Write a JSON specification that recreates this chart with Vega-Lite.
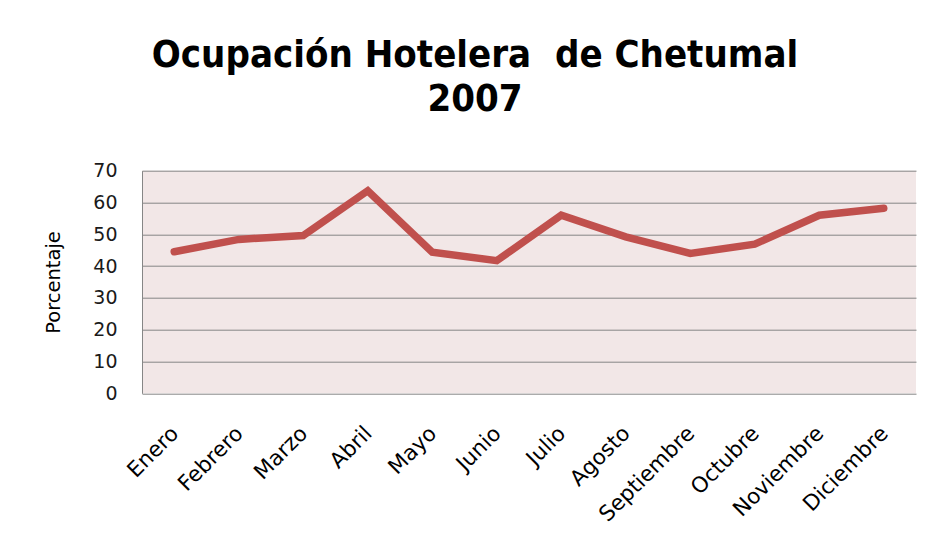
{
  "$schema": "https://vega.github.io/schema/vega-lite/v6.json",
  "width": 774,
  "height": 222.6,
  "autosize": {"type": "none"},
  "padding": {"left": 142, "top": 170.7, "right": 16, "bottom": 156.7},
  "background": "white",
  "title": {
    "text": ["Ocupación Hotelera\u00a0 de Chetumal", "2007"],
    "font": "DejaVu Sans Condensed",
    "fontSize": 38,
    "fontWeight": "bold",
    "color": "black",
    "anchor": "middle",
    "dx": -54,
    "offset": 43,
    "lineHeight": 44
  },
  "data": {
    "values": [
      {"mes": "Enero", "porcentaje": 44.5},
      {"mes": "Febrero", "porcentaje": 48.4},
      {"mes": "Marzo", "porcentaje": 49.6},
      {"mes": "Abril", "porcentaje": 63.7},
      {"mes": "Mayo", "porcentaje": 44.4},
      {"mes": "Junio", "porcentaje": 41.7},
      {"mes": "Julio", "porcentaje": 56.0},
      {"mes": "Agosto", "porcentaje": 49.2},
      {"mes": "Septiembre", "porcentaje": 44.0},
      {"mes": "Octubre", "porcentaje": 46.9},
      {"mes": "Noviembre", "porcentaje": 56.0},
      {"mes": "Diciembre", "porcentaje": 58.2}
    ]
  },
  "mark": {"type": "line", "color": "#C0504D", "strokeWidth": 7.5, "strokeCap": "round", "strokeJoin": "miter"},
  "encoding": {
    "x": {
      "field": "mes",
      "type": "ordinal",
      "sort": null,
      "scale": {"type": "point", "padding": 0.5},
      "axis": {
        "title": null,
        "labelAngle": -45,
        "labelFont": "DejaVu Sans",
        "labelFontSize": 21.5,
        "labelColor": "black",
        "labelPadding": 29,
        "labelOffset": -7,
        "ticks": false,
        "domain": false,
        "grid": false
      }
    },
    "y": {
      "field": "porcentaje",
      "type": "quantitative",
      "scale": {"domain": [0, 70], "nice": false},
      "axis": {
        "title": "Porcentaje",
        "titleFont": "DejaVu Sans",
        "titleFontSize": 19.5,
        "titleFontWeight": "normal",
        "titleColor": "black",
        "titlePadding": 29,
        "values": [0, 10, 20, 30, 40, 50, 60, 70],
        "labelFont": "DejaVu Sans",
        "labelFontSize": 19,
        "labelColor": "#1a1a1a",
        "labelPadding": 25,
        "ticks": false,
        "domain": true,
        "domainColor": "#868686",
        "domainWidth": 1,
        "grid": true,
        "gridColor": "#868686",
        "gridWidth": 1,
        "gridOpacity": 1
      }
    }
  },
  "config": {
    "view": {"fill": "#F2E7E7", "stroke": null}
  }
}
